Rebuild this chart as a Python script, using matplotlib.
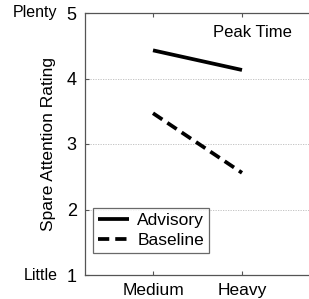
import matplotlib
matplotlib.use("Agg")
import matplotlib.pyplot as plt

plt.rcParams["font.family"] = ["Liberation Sans", "DejaVu Sans"]

categories = ["Medium", "Heavy"]
advisory   = [4.43, 4.13]
baseline   = [3.47, 2.56]
yticks     = [1, 2, 3, 4, 5]

W, H = 309, 299
fig = plt.figure(figsize=(W/100, H/100), dpi=100)
# axes: left 85px, bottom 275px, top 13px; right spine just past the image edge
ax = fig.add_axes([85/W, 1 - 275/H, 226/W, 262/H])

x = [1, 2]
ax.plot(x, advisory, color="black", lw=2.7, ls="-", label="Advisory", solid_capstyle="butt")
ax.plot(x, baseline, color="black", lw=2.7, ls=(0, (3, 1.6)), label="Baseline", dash_capstyle="butt")

ax.set_xlim(1 - 68/89, 2 + 69/89)
ax.set_ylim(1, 5)
ax.set_xticks(x)
ax.set_xticklabels(categories, fontsize=12.5)
ax.set_yticks(yticks)
ax.set_yticklabels([str(v) for v in yticks], fontsize=13)
ax.tick_params(direction="in", top=True, length=3, color="#555555")
ax.tick_params(axis="y", pad=6)
ax.tick_params(axis="x", pad=6)
for s in ax.spines.values():
    s.set_color("#555555")
    s.set_linewidth(0.9)
for v in [2, 3, 4]:
    ax.axhline(v, color="#bbbbbb", lw=0.6, ls=(0, (1.5, 1.5)), zorder=0)

ax.set_ylabel("Spare Attention Rating", fontsize=12.5, labelpad=8)
ax.text(-28/226, 5, "Plenty", transform=ax.get_yaxis_transform(), fontsize=11.5,
        ha="right", va="center")
ax.text(-27/226, 1, "Little", transform=ax.get_yaxis_transform(), fontsize=11.5,
        ha="right", va="center")
ax.text(2.12, 4.7, "Peak Time", fontsize=12, ha="center", va="center")

leg = ax.legend(loc="lower left", bbox_to_anchor=(8/226, 22/262), fontsize=12.5,
                frameon=True, fancybox=False, edgecolor="#444444",
                handlelength=1.8, borderpad=0.3, labelspacing=0.25,
                handletextpad=0.45, borderaxespad=0.0)
leg.get_frame().set_linewidth(0.9)

fig.savefig("out.png", dpi=100)
